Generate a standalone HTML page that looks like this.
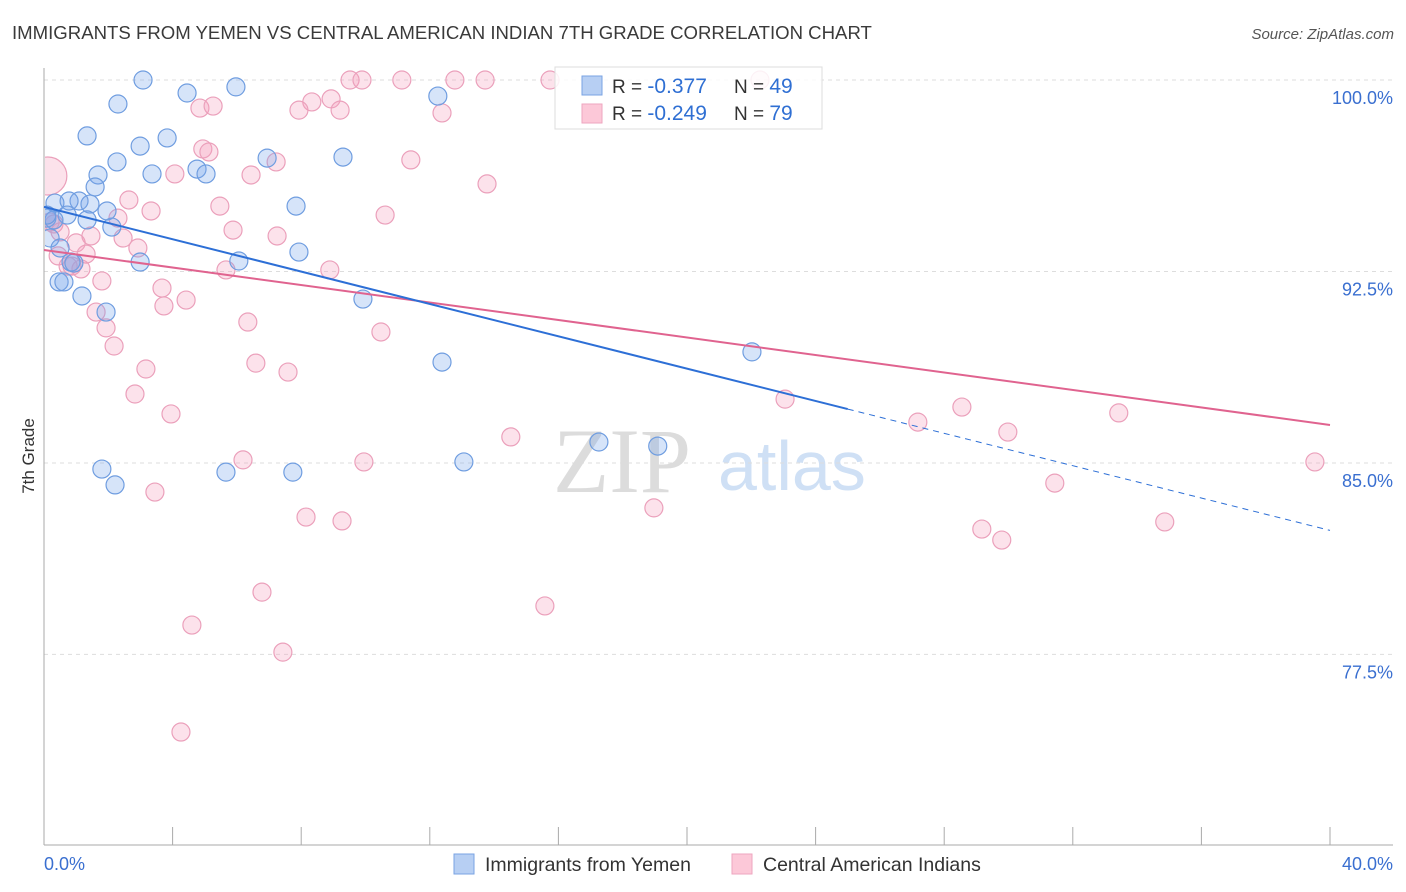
<!DOCTYPE html>
<html><head><meta charset="utf-8"><style>
body{margin:0;background:#fff;font-family:"Liberation Sans",sans-serif;}
svg{display:block}
</style></head><body>
<svg id="chart" width="1406" height="892" xmlns="http://www.w3.org/2000/svg">
<defs><clipPath id="plotclip"><rect x="45" y="60" width="1360" height="785"/></clipPath></defs>
<text x="12" y="39" font-size="18.6" fill="#3a3a3a">IMMIGRANTS FROM YEMEN VS CENTRAL AMERICAN INDIAN 7TH GRADE CORRELATION CHART</text>
<text x="1394" y="39" font-size="15" fill="#555" font-style="italic" text-anchor="end">Source: ZipAtlas.com</text>
<g>
<text x="553" y="492" font-size="92" fill="#dcdcdc" font-family="Liberation Serif,serif">ZIP</text>
<text x="718" y="490" font-size="70" fill="#cfe0f5">atlas</text>
</g>
<g id="grid"></g>
<g id="marks" clip-path="url(#plotclip)"></g>
<g id="axes"></g>
<g id="lines"></g>
<text transform="translate(34,456) rotate(-90)" font-size="17" fill="#333" text-anchor="middle">7th Grade</text>
<g>
<rect x="555" y="67" width="267" height="62" fill="#fff" fill-opacity="0.85" stroke="#ddd"/>
<rect x="582" y="76" width="20" height="19" fill="#b7cff3" stroke="#7aa3e3"/>
<rect x="582" y="104" width="20" height="19" fill="#fcc8d8" stroke="#eea6bf"/>
<text x="612" y="93" font-size="19" fill="#333">R = <tspan fill="#2f6fd3" font-size="21">-0.377</tspan></text>
<text x="734" y="93" font-size="19" fill="#333">N = <tspan fill="#2f6fd3" font-size="21">49</tspan></text>
<text x="612" y="120" font-size="19" fill="#333">R = <tspan fill="#2f6fd3" font-size="21">-0.249</tspan></text>
<text x="734" y="120" font-size="19" fill="#333">N = <tspan fill="#2f6fd3" font-size="21">79</tspan></text>
</g>
<g>
<rect x="454" y="854" width="20" height="20" fill="#b7cff3" stroke="#7aa3e3"/>
<text x="485" y="871" font-size="19.5" fill="#333">Immigrants from Yemen</text>
<rect x="732" y="854" width="20" height="20" fill="#fcc8d8" stroke="#eea6bf"/>
<text x="763" y="871" font-size="19.5" fill="#333">Central American Indians</text>
</g>
</svg>
<script>
const yTicks=[100,92.5,85,77.5];
const yTickLabels=["100.0%","92.5%","85.0%","77.5%"];
const xTickCount=10;
const xLabels=["0.0%","40.0%"];
const blueX=[3.08,5.97,4.45,12.25,2.30,1.34,3.83,2.99,2.27,6.94,9.30,4.76,3.36,5.04,1.68,1.59,0.34,1.09,0.78,1.43,7.84,1.96,0.72,0.09,0.31,1.34,2.11,0.19,0.50,7.93,2.99,6.06,0.84,0.93,0.47,0.62,1.18,9.92,1.93,12.38,22.02,1.80,2.21,5.66,7.74,13.06,17.26,19.09,0.09];
const blueY=[100,99.73,99.49,99.37,99.06,97.81,97.73,97.41,96.79,96.94,96.98,96.51,96.32,96.32,96.28,95.81,95.18,95.26,95.26,95.14,95.06,94.87,94.71,94.59,94.52,94.52,94.24,93.81,93.42,93.26,92.87,92.91,92.87,92.83,92.09,92.09,91.54,91.42,90.91,88.95,89.35,84.76,84.14,84.64,84.64,85.04,85.82,85.66,94.71];
const pinkX=[9.52,9.89,11.13,12.78,13.72,15.74,22.27,8.93,9.21,8.33,7.93,4.85,5.26,12.38,4.94,5.13,11.41,7.22,6.44,4.07,13.78,2.64,5.47,3.33,10.61,2.30,5.88,0.31,7.25,1.46,2.46,2.92,1.00,1.31,0.44,8.89,5.66,0.75,1.15,1.80,3.67,3.73,4.42,1.62,6.34,10.48,1.93,2.18,6.59,7.59,3.17,2.83,3.95,23.05,28.55,33.43,27.18,29.98,14.52,6.19,9.95,39.53,3.45,31.44,18.97,8.15,9.27,34.86,29.17,29.79,6.78,15.58,4.60,7.43,4.26,0.12,0.50,0.87,0.19];
const pinkY=[100,100,100,100,100,100,100,99.26,98.82,99.14,98.82,98.90,98.98,98.71,97.30,97.18,96.87,96.79,96.28,96.32,95.93,95.30,95.06,94.87,94.71,94.59,94.12,94.36,93.89,93.89,93.81,93.42,93.62,93.18,93.11,92.56,92.56,92.71,92.60,92.13,91.85,91.15,91.38,90.91,90.52,90.13,90.29,89.58,88.91,88.56,88.68,87.70,86.92,87.50,87.19,86.96,86.60,86.21,86.02,85.12,85.04,85.04,83.86,84.21,83.24,82.88,82.73,82.69,82.41,81.98,79.94,79.40,78.65,77.59,74.46,96.24,94.05,92.71,94.44];
const pinkSize=pinkX.map((v,i)=>i===75?19:9);
const blueTrend=[95.03,-0.3168];
const pinkTrend=[93.34,-0.1713];
const blueSolidEnd=25;

const NS="http://www.w3.org/2000/svg";
const X0=44,X1=1330,YTOP=80,YPX=25.53;
const sx=v=>X0+(v/40)*(X1-X0);
const sy=v=>YTOP+(100-v)*YPX;
function mk(tag,attrs,parent){const e=document.createElementNS(NS,tag);for(const k in attrs)e.setAttribute(k,attrs[k]);parent.appendChild(e);return e;}
const grid=document.getElementById('grid'),axes=document.getElementById('axes'),marks=document.getElementById('marks'),lines=document.getElementById('lines');
yTicks.forEach((t,i)=>{
  const g=mk('line',{x1:X0,x2:1393,y1:sy(t),y2:sy(t),stroke:'#ddd','stroke-dasharray':'4,4'},grid);
  
  
  const l=mk('text',{x:1393,y:sy(t)+24,'font-size':18,fill:'#3a6fd0','text-anchor':'end'},axes);
  l.textContent=yTickLabels[i];
  
  
});
const ax=mk('line',{x1:X0,x2:X0,y1:68,y2:845,stroke:'#aaa'},axes);


const bx=mk('line',{x1:X0,x2:1393,y1:845,y2:845,stroke:'#aaa'},axes);


for(let i=0;i<=xTickCount;i++){
  const x=sx(i*40/xTickCount);
  const t=mk('line',{x1:x,x2:x,y1:827,y2:845,stroke:'#aaa'},axes);
  
  
}
const xl0=mk('text',{x:44,y:870,'font-size':18,fill:'#3a6fd0'},axes);xl0.textContent=xLabels[0];


const xl1=mk('text',{x:1393,y:870,'font-size':18,fill:'#3a6fd0','text-anchor':'end'},axes);xl1.textContent=xLabels[1];


pinkX.forEach((v,i)=>{
  const c=mk('circle',{cx:sx(v),cy:sy(pinkY[i]),r:pinkSize[i],fill:'rgba(246,160,190,0.3)',stroke:'#eba0bb','stroke-width':1.2},marks);
  
  
});
blueX.forEach((v,i)=>{
  const c=mk('circle',{cx:sx(v),cy:sy(blueY[i]),r:9,fill:'rgba(120,165,235,0.3)',stroke:'#6f9de0','stroke-width':1.2},marks);
  
  
});
const f=(t,x)=>t[0]+t[1]*x;
const pl=mk('line',{x1:sx(0),y1:sy(f(pinkTrend,0)),x2:sx(40),y2:sy(f(pinkTrend,40)),stroke:'#e0638f','stroke-width':2},lines);


const bl=mk('line',{x1:sx(0),y1:sy(f(blueTrend,0)),x2:sx(blueSolidEnd),y2:sy(f(blueTrend,blueSolidEnd)),stroke:'#2d6fd6','stroke-width':2},lines);


const bd=mk('line',{x1:sx(blueSolidEnd),y1:sy(f(blueTrend,blueSolidEnd)),x2:sx(40),y2:sy(f(blueTrend,40)),stroke:'#2d6fd6','stroke-width':1,'stroke-dasharray':'6,5'},lines);


</script>
</body></html>
